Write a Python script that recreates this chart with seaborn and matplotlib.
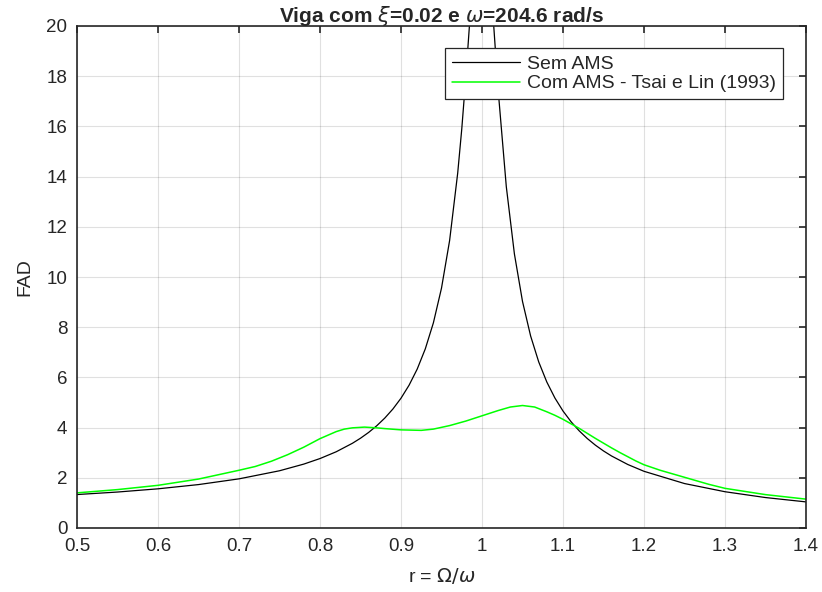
import numpy as np
import pandas as pd
import matplotlib
matplotlib.use("Agg")
import matplotlib.pyplot as plt
import seaborn as sns

# --- Data ---
r_sem = [0.50, 0.55, 0.60, 0.65, 0.70, 0.75, 0.78, 0.80, 0.82, 0.84, 0.85,
         0.86, 0.87, 0.88, 0.89, 0.90, 0.91, 0.92, 0.93, 0.94, 0.95, 0.96,
         0.97, 0.975, 0.98, 0.985, 0.99, 0.995, 1.00, 1.005, 1.01, 1.015,
         1.02, 1.03, 1.04, 1.05, 1.06, 1.07, 1.08, 1.09, 1.10, 1.11, 1.12,
         1.13, 1.14, 1.15, 1.16, 1.18, 1.20, 1.25, 1.30, 1.35, 1.40]
fad_sem = [1.333, 1.433, 1.561, 1.730, 1.958, 2.280, 2.546, 2.767, 3.037,
           3.375, 3.577, 3.807, 4.072, 4.380, 4.741, 5.171, 5.691, 6.331,
           7.137, 8.176, 9.557, 11.45, 14.14, 15.89, 17.95, 20.25, 22.57,
           24.37, 25.0, 24.14, 22.16, 19.76, 17.42, 13.60, 10.92, 9.027,
           7.653, 6.619, 5.817, 5.179, 4.661, 4.232, 3.871, 3.564, 3.300,
           3.070, 2.868, 2.530, 2.259, 1.771, 1.445, 1.213, 1.040]

r_com = [0.50, 0.55, 0.60, 0.65, 0.70, 0.72, 0.74, 0.76, 0.78, 0.80, 0.82,
         0.83, 0.84, 0.855, 0.87, 0.88, 0.90, 0.925, 0.94, 0.96, 0.98, 1.00,
         1.02, 1.035, 1.05, 1.065, 1.08, 1.09, 1.10, 1.11, 1.12, 1.13, 1.14,
         1.15, 1.16, 1.17, 1.18, 1.19, 1.20, 1.22, 1.25, 1.28, 1.30, 1.35,
         1.40]
fad_com = [1.40, 1.53, 1.70, 1.95, 2.30, 2.45, 2.66, 2.92, 3.22, 3.56, 3.84,
           3.94, 3.99, 4.02, 3.99, 3.96, 3.91, 3.89, 3.94, 4.08, 4.26, 4.47,
           4.68, 4.82, 4.88, 4.82, 4.63, 4.49, 4.33, 4.15, 3.97, 3.77, 3.57,
           3.38, 3.19, 3.01, 2.84, 2.67, 2.52, 2.30, 2.02, 1.74, 1.58, 1.33,
           1.15]

x_ticks = [0.5, 0.6, 0.7, 0.8, 0.9, 1.0, 1.1, 1.2, 1.3, 1.4]
x_tick_labels = ["0.5", "0.6", "0.7", "0.8", "0.9", "1", "1.1", "1.2", "1.3", "1.4"]
y_ticks = [0, 2, 4, 6, 8, 10, 12, 14, 16, 18, 20]

df_sem = pd.DataFrame({"r": r_sem, "FAD": fad_sem})
df_com = pd.DataFrame({"r": r_com, "FAD": fad_com})

sns.set_style("white")
plt.rcParams["font.family"] = ["Liberation Sans", "DejaVu Sans"]
plt.rcParams["mathtext.fontset"] = "dejavusans"

fig = plt.figure(figsize=(8.22, 5.92), dpi=100)
ax = fig.add_axes([77 / 822, 1 - 528 / 592, 729 / 822, 502 / 592])

sns.lineplot(data=df_sem, x="r", y="FAD", ax=ax, color="black", linewidth=0.9,
             label="Sem AMS", sort=False)
sns.lineplot(data=df_com, x="r", y="FAD", ax=ax, color="#00ff00", linewidth=1.1,
             label="Com AMS - Tsai e Lin (1993)", sort=False)

ax.set_xlim(0.5, 1.4)
ax.set_ylim(0, 20)
ax.set_xticks(x_ticks)
ax.set_xticklabels(x_tick_labels)
ax.set_yticks(y_ticks)

ax.grid(True, color="#000000", alpha=0.12, linewidth=0.8)
for s in ax.spines.values():
    s.set_color("#262626")
    s.set_linewidth(1.2)
ax.tick_params(direction="in", length=5, width=1.2, colors="#262626",
               top=True, right=True, labelsize=13.5, pad=7)
for lbl in ax.get_xticklabels() + ax.get_yticklabels():
    lbl.set_color("#262626")

ax.set_xlabel(r"r = $\Omega/\omega$", fontsize=14, color="#262626", labelpad=8)
ax.set_ylabel("FAD", fontsize=14, color="#262626", labelpad=9)
ax.set_title(r"Viga com $\xi$=0.02 e $\omega$=204.6 rad/s", fontsize=15,
             fontweight="bold", pad=3)

leg = ax.legend(loc="upper right", bbox_to_anchor=(0.968, 0.956), fontsize=14,
                frameon=True, fancybox=False, handlelength=3.5, borderpad=0.35,
                labelspacing=0.12, handletextpad=0.35, borderaxespad=0)
leg.get_frame().set_edgecolor("#262626")
leg.get_frame().set_linewidth(0.9)
leg.get_frame().set_alpha(1)

fig.savefig("out.png", dpi=100)
